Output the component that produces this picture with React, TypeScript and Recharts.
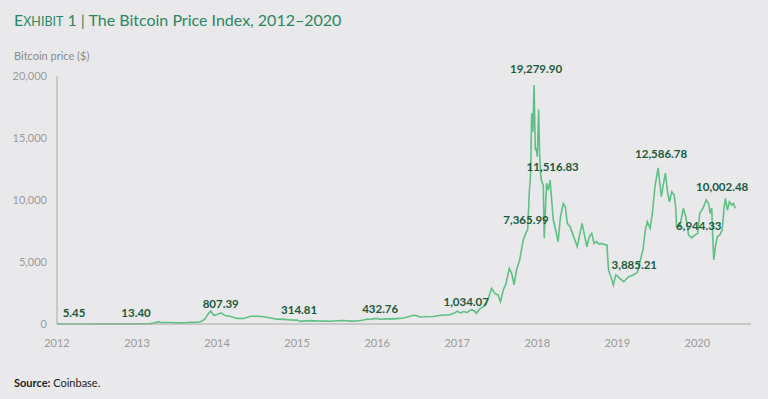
import { LineChart, Line, XAxis, YAxis, ReferenceDot } from 'recharts';

// decimal year of each observation, and Coinbase closing price in USD
const dates = [
  2012.0, 2012.08, 2012.17, 2012.25, 2012.33, 2012.42, 2012.5, 2012.58, 2012.67, 2012.75, 2012.83, 2012.92,
  2013.0, 2013.08, 2013.17, 2013.22, 2013.27, 2013.3, 2013.33, 2013.42, 2013.5, 2013.58, 2013.67, 2013.75, 2013.8, 2013.85, 2013.88, 2013.92, 2013.96,
  2014.0, 2014.05, 2014.1, 2014.17, 2014.25, 2014.33, 2014.42, 2014.5, 2014.58, 2014.67, 2014.75, 2014.83, 2014.92,
  2015.0, 2015.04, 2015.08, 2015.17, 2015.25, 2015.33, 2015.42, 2015.5, 2015.58, 2015.67, 2015.75, 2015.83, 2015.88, 2015.92, 2015.96,
  2016.0, 2016.05, 2016.12, 2016.2, 2016.28, 2016.36, 2016.45, 2016.5, 2016.53, 2016.6, 2016.7, 2016.8, 2016.91, 2016.97,
  2017.0, 2017.04, 2017.08, 2017.12, 2017.18, 2017.21, 2017.24, 2017.28, 2017.325, 2017.36, 2017.4, 2017.43, 2017.47, 2017.51, 2017.54, 2017.575,
  2017.61, 2017.65, 2017.68, 2017.71, 2017.74, 2017.78, 2017.825, 2017.86, 2017.88, 2017.9, 2017.917, 2017.93, 2017.945, 2017.96,
  2017.975, 2017.985, 2018.0, 2018.017, 2018.03, 2018.045, 2018.055, 2018.075, 2018.087, 2018.105, 2018.117, 2018.137, 2018.16, 2018.18,
  2018.2, 2018.23, 2018.26, 2018.29, 2018.325, 2018.35, 2018.375, 2018.41, 2018.44, 2018.47, 2018.5, 2018.525, 2018.56, 2018.585,
  2018.62, 2018.65, 2018.68, 2018.71, 2018.74, 2018.77, 2018.805, 2018.84, 2018.87, 2018.89, 2018.92, 2018.95, 2018.98,
  2019.0, 2019.03, 2019.08, 2019.14, 2019.2, 2019.25, 2019.32, 2019.35, 2019.375, 2019.41, 2019.44, 2019.47, 2019.51, 2019.53,
  2019.55, 2019.57, 2019.6, 2019.63, 2019.65, 2019.68, 2019.71, 2019.73, 2019.74, 2019.78, 2019.825, 2019.855, 2019.89, 2019.93,
  2019.97, 2020.005, 2020.03, 2020.07, 2020.11, 2020.14, 2020.16, 2020.18, 2020.19, 2020.205, 2020.225, 2020.25, 2020.28, 2020.31,
  2020.335, 2020.35, 2020.375, 2020.4, 2020.43, 2020.45, 2020.475,
];

const prices = [
  5.45, 5.5, 4.9, 4.9, 5.1, 5.3, 6.7, 9.5, 10.5, 12.5, 11, 13.2,
  13.4, 20, 33, 90, 190, 100, 117, 122, 90, 106, 130, 140, 200, 400, 750, 1050, 700,
  770, 900, 680, 600, 450, 440, 620, 630, 580, 480, 390, 370, 330,
  314.81, 210, 230, 270, 240, 235, 225, 260, 280, 230, 240, 320, 400, 360, 430,
  432.76, 380, 410, 415, 450, 520, 700, 660, 560, 580, 610, 700, 740, 900,
  1034.07, 900, 1000, 920, 1180, 1050, 860, 1200, 1400, 1530, 2300, 2880, 2470, 2340, 1800, 2740,
  3280, 4490, 4090, 3150, 4350, 5160, 6770, 7365.99, 7580, 10560, 12180, 17000, 15500, 19279.9,
  14030, 14200, 13500, 17300, 13500, 11880, 11516.83, 11200, 6910, 9750, 11350, 10800, 11610, 10000,
  8390, 7580, 6640, 8650, 9730, 9460, 8120, 7850, 7310, 6770, 6230, 7040, 8120, 7310,
  6230, 7040, 7310, 6500, 6640, 6450, 6500, 6400, 6370, 4350, 3820, 3150, 3950,
  3885.21, 3680, 3410, 3820, 3950, 4170, 5970, 7580, 8250, 7720, 9060, 11070, 12586.78, 11350,
  10270, 11070, 12150, 10540, 9860, 10670, 10400, 9330, 7850, 7850, 9330, 8650, 7180, 6944.33,
  7180, 7310, 8930, 9330, 10002.48, 9730, 8930, 9330, 7310, 5160, 6230, 7040, 7180, 7580,
  9460, 10140, 9190, 9860, 9600, 9730, 9330,
];

const yearTicks = [2012, 2013, 2014, 2015, 2016, 2017, 2018, 2019, 2020];
const priceTicks = [0, 5000, 10000, 15000, 20000];

// annotated closes
const noteDates = [2012.0, 2013.0, 2013.92, 2015.0, 2016.0, 2017.0, 2017.86, 2018.055, 2017.96, 2019.51, 2020.11, 2019.93, 2019.0];
const notePrices = [5.45, 13.4, 807.39, 314.81, 432.76, 1034.07, 7365.99, 11516.83, 19279.9, 12586.78, 10002.48, 6944.33, 3885.21];

// pixel nudges for the annotation text
const noteOffsets = [
  [17, -11], [-1, -11], [10, -10], [2, -10], [3, -10], [9, -9.5], [0, -13],
  [11, -14], [2, -16], [3, -14], [16, -13], [7, -12], [17, -11.5],
];

const data = dates.map((t, i) => ({ t, price: prices[i] }));

const FONT = 'Lato, "Open Sans", sans-serif';

const fmtPrice = (v: number) =>
  v.toLocaleString('en-US', { minimumFractionDigits: 2, maximumFractionDigits: 2 });

function NoteLabel({ viewBox, index, value }: any) {
  const cx = viewBox.x + viewBox.width / 2;
  const cy = viewBox.y + viewBox.height / 2;
  const [dx, dy] = noteOffsets[index];
  return (
    <text
      x={cx + dx}
      y={cy + dy + 4.2}
      textAnchor="middle"
      fontFamily={FONT}
      fontWeight={700}
      fontSize={11.5}
      fill="#1c5a3b"
    >
      {value}
    </text>
  );
}

export default function App() {
  return (
    <div
      style={{
        position: 'absolute',
        left: 0,
        top: 0,
        width: 768,
        height: 399,
        background: '#e9e9eb',
        fontFamily: FONT,
        overflow: 'hidden',
      }}
    >
      <div
        style={{
          position: 'absolute',
          left: 14,
          top: 11,
          fontSize: 16,
          lineHeight: '17px',
          color: '#2b8763',
          whiteSpace: 'nowrap',
        }}
      >
        E<span style={{ fontSize: 12.5 }}>XHIBIT</span> 1 | The Bitcoin Price Index, 2012–2020
      </div>
      <div
        style={{
          position: 'absolute',
          left: 14,
          top: 50,
          fontSize: 11,
          lineHeight: '11px',
          color: '#8a8a8a',
          whiteSpace: 'nowrap',
        }}
      >
        Bitcoin price ($)
      </div>
      <div
        style={{
          position: 'absolute',
          left: 14,
          top: 377,
          fontSize: 11,
          lineHeight: '11px',
          color: '#222',
          whiteSpace: 'nowrap',
        }}
      >
        <b>Source:</b> Coinbase.
      </div>

      <LineChart
        width={768}
        height={399}
        data={data}
        margin={{ top: 76, right: 17, bottom: 45, left: 0 }}
        style={{ position: 'absolute', left: 0, top: 0 }}
      >
        <XAxis
          dataKey="t"
          type="number"
          domain={[2012, 2020.67]}
          ticks={yearTicks}
          height={30}
          tickFormatter={(v: number) => String(v)}
          tickLine={false}
          tickSize={0}
          tickMargin={15}
          axisLine={{ stroke: '#a8a8a8' }}
          tick={{ fill: '#9a9a9a', fontSize: 11, fontFamily: FONT }}
          allowDataOverflow
        />
        <YAxis
          type="number"
          domain={[0, 20000]}
          ticks={priceTicks}
          width={57}
          tickFormatter={(v: number) => v.toLocaleString('en-US')}
          tickLine={false}
          tickSize={0}
          tickMargin={10}
          axisLine={{ stroke: '#a8a8a8' }}
          tick={{ fill: '#9a9a9a', fontSize: 11, fontFamily: FONT }}
        />
        <Line
          dataKey="price"
          type="linear"
          stroke="#5ec085"
          strokeWidth={1.6}
          dot={false}
          isAnimationActive={false}
        />
        {noteDates.map((t, i) => (
          <ReferenceDot
            key={`note-${i}`}
            x={t}
            y={notePrices[i]}
            r={0}
            fill="none"
            stroke="none"
            label={{
              content: (p: any) => <NoteLabel {...p} index={i} value={fmtPrice(notePrices[i])} />,
            }}
          />
        ))}
      </LineChart>
    </div>
  );
}
